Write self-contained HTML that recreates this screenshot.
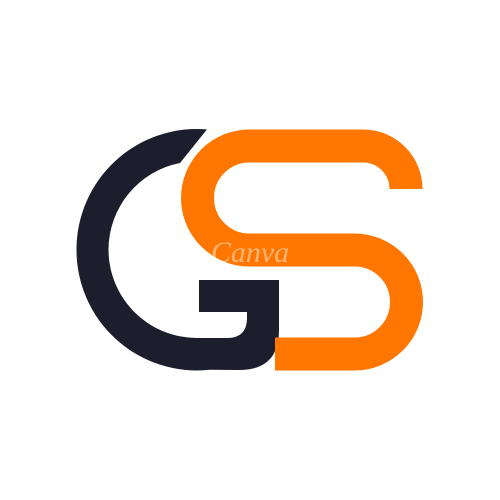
<!DOCTYPE html>
<html><head><meta charset="utf-8"><style>
html,body{margin:0;padding:0;background:#fff;}
svg{display:block;}
</style></head><body>
<svg width="500" height="500" viewBox="0 0 500 500">
  <path fill="#1c1e2d"
    d="M207,129.4 A120.5,120.5 0 0 0 76.5,249.5 A120.5,120.5 0 0 0 210,369.8 L239,370 Q279,370 279,330 L279,280 L199,280 L199,312 L247,312 L247,318 Q247,338 227,338 L197,338 A88.5,88.5 0 0 1 108.5,249.5 A88.5,88.5 0 0 1 180,163 Z"/>
  <g fill="none" stroke="#ff7700" stroke-width="33" stroke-linecap="butt">
    <path d="M406,189 A43,43 0 0 0 363,146 L249.5,146 A52,52 0 0 0 249.5,250 L354.5,250 A52,52 0 0 1 354.5,354 L275,354"/>
  </g>
  <text x="250" y="262" text-anchor="middle" font-family="Liberation Serif, serif" font-style="italic" font-size="30" fill="#ffffff" fill-opacity="0.45">Canva</text>
</svg>
</body></html>
